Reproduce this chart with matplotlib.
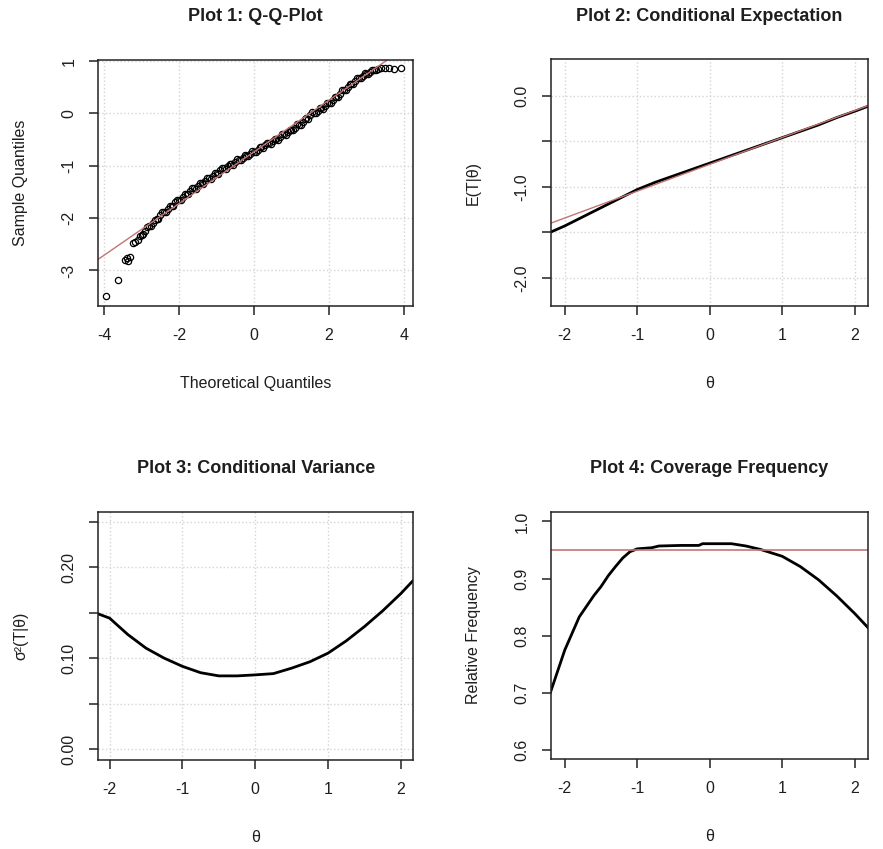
import matplotlib
matplotlib.use('Agg')
import matplotlib.pyplot as plt

plt.rcParams['font.family'] = ['Liberation Sans', 'DejaVu Sans']
plt.rcParams['axes.unicode_minus'] = False

# Plot 1: Q-Q data (theoretical, sample)
qq_x = [-3.95, -3.62, -3.45, -3.40, -3.35, -3.30, -3.22, -3.17,
        -3.1, -3.0, -2.9, -2.8, -2.7, -2.6, -2.5, -2.4, -2.3, -2.2, -2.1,
        -2.0, -1.9, -1.8, -1.7, -1.6, -1.5, -1.4, -1.3, -1.2, -1.1,
        -1.0, -0.9, -0.8, -0.7, -0.6, -0.5, -0.4, -0.3, -0.2, -0.1,
        0.0, 0.1, 0.2, 0.3, 0.4, 0.5, 0.6, 0.7, 0.8, 0.9,
        1.0, 1.1, 1.2, 1.3, 1.4, 1.5, 1.6, 1.7, 1.8, 1.9,
        2.0, 2.1, 2.2, 2.3, 2.4, 2.5, 2.6, 2.7, 2.8, 2.9,
        3.0, 3.1, 3.2, 3.3, 3.4, 3.5, 3.6, 3.73, 3.91]
qq_y = [-3.49, -3.19, -2.80, -2.76, -2.82, -2.74, -2.48, -2.45,
        -2.41, -2.33, -2.24, -2.16, -2.09, -2.02, -1.95, -1.88, -1.82, -1.77, -1.70,
        -1.65, -1.59, -1.54, -1.48, -1.43, -1.39, -1.33, -1.29, -1.24, -1.19,
        -1.14, -1.09, -1.05, -1.01, -0.97, -0.93, -0.89, -0.85, -0.81, -0.77,
        -0.73, -0.69, -0.65, -0.61, -0.57, -0.53, -0.49, -0.45, -0.40, -0.36,
        -0.32, -0.27, -0.22, -0.16, -0.09, -0.04, 0.01, 0.05, 0.10, 0.14,
        0.19, 0.25, 0.31, 0.37, 0.44, 0.50, 0.56, 0.62, 0.67, 0.72,
        0.76, 0.80, 0.83, 0.85, 0.86, 0.86, 0.86, 0.85, 0.87]
qq_x_mid = [-3.05, -2.95, -2.85, -2.75, -2.65, -2.55, -2.45, -2.35, -2.25, -2.15,
            -2.05, -1.95, -1.85, -1.75, -1.65, -1.55, -1.45, -1.35, -1.25, -1.15,
            -1.05, -0.95, -0.85, -0.75, -0.65, -0.55, -0.45, -0.35, -0.25, -0.15,
            -0.05, 0.05, 0.15, 0.25, 0.35, 0.45, 0.55, 0.65, 0.75, 0.85,
            0.95, 1.05, 1.15, 1.25, 1.35, 1.45, 1.55, 1.65, 1.75, 1.85,
            1.95, 2.05, 2.15, 2.25, 2.35, 2.45, 2.55, 2.65, 2.75, 2.85,
            2.95, 3.05, 3.15, 3.25]
qq_y_mid = [-2.34, -2.31, -2.17, -2.15, -2.03, -2.01, -1.89, -1.88, -1.77, -1.76,
            -1.65, -1.65, -1.54, -1.54, -1.43, -1.44, -1.33, -1.34, -1.24, -1.25,
            -1.14, -1.15, -1.04, -1.06, -0.96, -0.98, -0.88, -0.90, -0.80, -0.82,
            -0.72, -0.74, -0.64, -0.66, -0.56, -0.58, -0.48, -0.50, -0.40, -0.41,
            -0.31, -0.32, -0.21, -0.22, -0.10, -0.10, 0.02, 0.00, 0.11, 0.09,
            0.20, 0.19, 0.31, 0.31, 0.44, 0.44, 0.56, 0.56, 0.68, 0.67,
            0.77, 0.75, 0.83, 0.82]
qq_intercept, qq_slope = -0.735, 0.494

# Plots 2-4: theta grid
theta = [-2.2, -2.0, -1.75, -1.5, -1.25, -1.0, -0.75, -0.5, -0.25, 0.0,
         0.25, 0.5, 0.75, 1.0, 1.25, 1.5, 1.75, 2.0, 2.2]
cond_exp = [-1.50, -1.43, -1.33, -1.23, -1.13, -1.03, -0.95, -0.88, -0.81, -0.74,
            -0.67, -0.60, -0.53, -0.46, -0.39, -0.32, -0.24, -0.17, -0.11]
exp_intercept, exp_slope = -0.753, 0.295
cond_var = [0.150, 0.144, 0.126, 0.111, 0.100, 0.091, 0.084, 0.0805, 0.0805, 0.0816,
            0.083, 0.089, 0.096, 0.1055, 0.119, 0.1347, 0.152, 0.171, 0.188]

cov_theta = [-2.2, -2.0, -1.8, -1.6, -1.5, -1.4, -1.3, -1.2, -1.1, -1.0, -0.8, -0.7,
             -0.4, -0.15, -0.1, 0.3, 0.4, 0.5, 0.7, 1.0, 1.25, 1.5, 1.75, 2.0, 2.2]
coverage = [0.700, 0.775, 0.833, 0.870, 0.886, 0.905, 0.921, 0.936, 0.947, 0.952, 0.954, 0.957,
            0.958, 0.958, 0.961, 0.961, 0.959, 0.957, 0.951, 0.939, 0.921, 0.898, 0.870, 0.839, 0.812]
nominal = 0.95

fig = plt.figure(figsize=(8.83, 8.49), dpi=100)
ax1 = fig.add_axes([0.111, 0.6396, 0.3567, 0.2897])
ax2 = fig.add_axes([0.624, 0.6396, 0.3587, 0.2904])
ax3 = fig.add_axes([0.1113, 0.1048, 0.3567, 0.2925])
ax4 = fig.add_axes([0.624, 0.1057, 0.3587, 0.2916])

red = '#c47474'
txt = '#1e1e1e'
grid_kw = dict(color='#d4d4d4', linestyle=':', linewidth=1.0)


def style(ax, title, xlabel, ylabel, xticks, xlabels, yticks, ylabels, grid=True):
    ax.set_xticks(xticks)
    ax.set_xticklabels(xlabels)
    ax.set_yticks(yticks)
    ax.set_yticklabels(ylabels)
    ax.tick_params(length=6.5, width=1.1, color='#222222', labelsize=11.5,
                   labelcolor=txt, pad=9)
    for lab in ax.get_yticklabels():
        lab.set_rotation(90)
        lab.set_va('center')
    for s in ax.spines.values():
        s.set_linewidth(1.1)
        s.set_color('#222222')
    if grid:
        ax.grid(True, **grid_kw)
        ax.set_axisbelow(True)
    ax.annotate(title, xy=(0.5, 1), xycoords='axes fraction', xytext=(0, 31),
                textcoords='offset points', ha='center', va='center',
                fontsize=13, fontweight='bold', color=txt)
    ax.annotate(xlabel, xy=(0.5, 0), xycoords='axes fraction', xytext=(0, -59),
                textcoords='offset points', ha='center', va='baseline',
                fontsize=11.5, color=txt)
    ax.annotate(ylabel, xy=(0, 0.5), xycoords='axes fraction', xytext=(-56, 0),
                textcoords='offset points', ha='center', va='center',
                rotation=90, fontsize=11.5, color=txt)


# Plot 1
ax1.plot(qq_x, qq_y, 'o', mfc='none', mec='black', ms=4.5, mew=0.9)
ax1.plot(qq_x_mid, qq_y_mid, 'o', mfc='none', mec='black', ms=4.5, mew=0.9)
ax1.axline((0, qq_intercept), slope=qq_slope, color=red, lw=1.0)
ax1.set_xlim(-4.16, 4.24)
ax1.set_ylim(-3.68, 1.02)
style(ax1, 'Plot 1: Q-Q-Plot', 'Theoretical Quantiles', 'Sample Quantiles',
      [-4, -2, 0, 2, 4], ['-4', '-2', '0', '2', '4'],
      [-3, -2, -1, 0, 1], ['-3', '-2', '-1', '0', '1'])

# Plot 2
ax2.plot(theta, cond_exp, color='black', lw=2.0)
ax2.axline((0, exp_intercept), slope=exp_slope, color=red, lw=1.0)
ax2.set_xlim(-2.19, 2.18)
ax2.set_ylim(-2.31, 0.40)
style(ax2, 'Plot 2: Conditional Expectation', 'θ', 'E(T|θ)',
      [-2, -1, 0, 1, 2], ['-2', '-1', '0', '1', '2'],
      [-2.0, -1.5, -1.0, -0.5, 0.0], ['-2.0', '', '-1.0', '', '0.0'])

# Plot 3
ax3.plot(theta, cond_var, color='black', lw=2.0)
ax3.set_xlim(-2.155, 2.17)
ax3.set_ylim(-0.012, 0.261)
style(ax3, 'Plot 3: Conditional Variance', 'θ', 'σ²(T|θ)',
      [-2, -1, 0, 1, 2], ['-2', '-1', '0', '1', '2'],
      [0.0, 0.05, 0.10, 0.15, 0.20, 0.25], ['0.00', '', '0.10', '', '0.20', ''])

# Plot 4
ax4.plot(cov_theta, coverage, color='black', lw=2.0)
ax4.axhline(nominal, color=red, lw=1.2)
ax4.set_xlim(-2.19, 2.18)
ax4.set_ylim(0.584, 1.017)
style(ax4, 'Plot 4: Coverage Frequency', 'θ', 'Relative Frequency',
      [-2, -1, 0, 1, 2], ['-2', '-1', '0', '1', '2'],
      [0.6, 0.7, 0.8, 0.9, 1.0], ['0.6', '0.7', '0.8', '0.9', '1.0'], grid=False)

fig.savefig('out.png', dpi=100, facecolor='white')
